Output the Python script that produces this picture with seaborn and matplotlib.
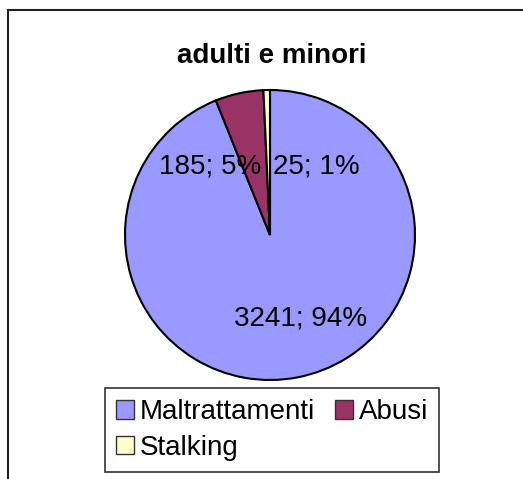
import numpy as np
import seaborn as sns
import matplotlib.pyplot as plt
from matplotlib.patches import Rectangle

# data
categories = ["Maltrattamenti", "Abusi", "Stalking"]
values = [3241, 185, 25]
percents = ["94%", "5%", "1%"]
colors = ["#9999FF", "#993366", "#FFFFCC"]

# label placement (fraction of radius, angle in degrees)
label_pos = [(0.61, -70), (0.63, 131), (0.57, 56)]

sns.set_theme(style="white")
plt.rcParams['font.family'] = ['Liberation Sans', 'DejaVu Sans']

fig = plt.figure(figsize=(5.23, 4.79), dpi=100)

# outer frame (cut off at the right and bottom like the original)
top = 1 - 10 / 479
fig.patches.append(Rectangle((8 / 523, -0.2), 1.2, top + 0.2,
                             transform=fig.transFigure, fill=False,
                             edgecolor="#222222", linewidth=1.5))

ax = fig.add_axes([(270 - 145) / 523, (479 - 235 - 145) / 479, 290 / 523, 290 / 479])
wedges, _ = ax.pie(values, colors=colors, startangle=90, counterclock=False,
                   wedgeprops=dict(edgecolor="black", linewidth=1.5))
for w in wedges:
    w.set_clip_on(False)
ax.set_xlim(-1, 1)
ax.set_ylim(-1, 1)
ax.set_aspect("equal")
ax.axis("off")

for v, p, (r, a) in zip(values, percents, label_pos):
    t = np.deg2rad(a)
    ax.text(r * np.cos(t), r * np.sin(t), f"{v}; {p}", ha="center", va="center",
            fontsize=20, color="black")

fig.text(272 / 523, 1 - 56 / 479, "adulti e minori", ha="center", va="center",
         fontsize=20, fontweight="bold", color="black")

# legend fills column by column, so reorder to get rows: Maltrattamenti Abusi / Stalking
order = [0, 2, 1]
handles = [Rectangle((0, 0), 1, 1, facecolor=colors[i], edgecolor="#333333", linewidth=1)
           for i in order]
labels = [categories[i] for i in order]
leg = fig.legend(handles, labels, ncol=2, loc="center",
                 bbox_to_anchor=(272 / 523, 1 - 430 / 479),
                 fontsize=20, frameon=True, fancybox=False, shadow=False,
                 handlelength=0.65, handleheight=0.65, handletextpad=0.2,
                 columnspacing=0.75, labelspacing=0.35, borderpad=0.4,
                 labelcolor="black")
leg.get_frame().set_edgecolor("black")
leg.get_frame().set_linewidth(1.2)
leg.get_frame().set_facecolor("white")

fig.savefig("out.png", dpi=100)
